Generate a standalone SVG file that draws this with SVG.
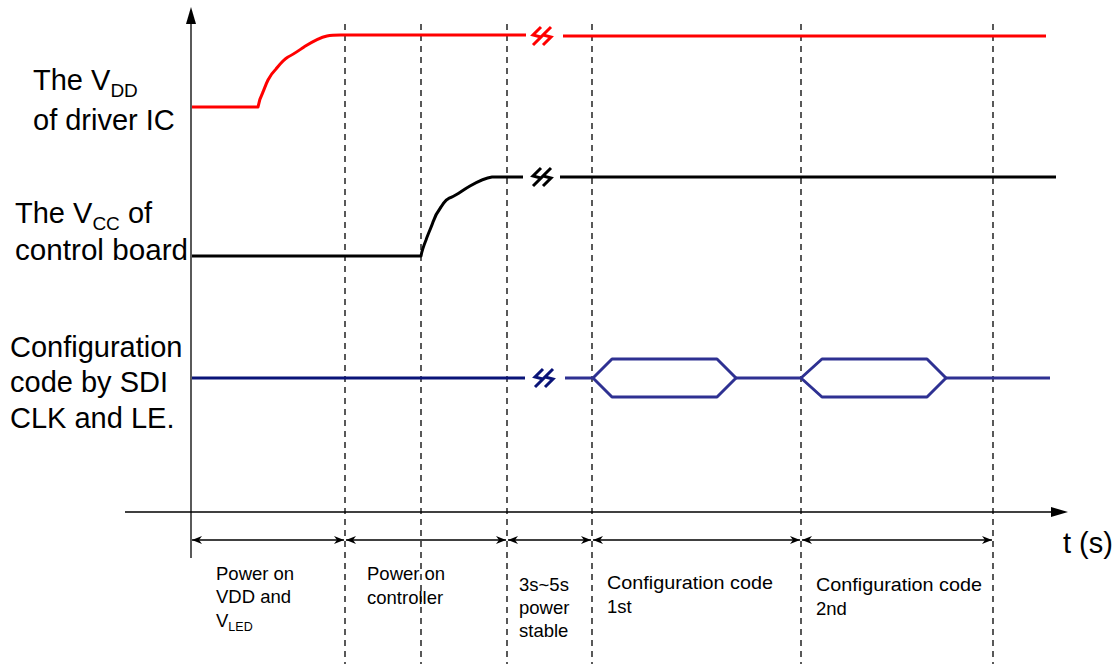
<svg xmlns="http://www.w3.org/2000/svg" width="1118" height="664" viewBox="0 0 1118 664">
  <style>
    .lbl { font-family: "Liberation Sans", Arial, sans-serif; font-size: 29px; fill: #000; }
    .sub { font-size: 19px; }
    .small { font-family: "Liberation Sans", Arial, sans-serif; font-size: 18.5px; fill: #000; }
    .ssub { font-size: 12.5px; }
    .dash { stroke: #000; stroke-width: 1.3; stroke-dasharray: 6 5; fill: none; }
    .axis { stroke: #000; stroke-width: 1.3; fill: none; }
    .dim { stroke: #000; stroke-width: 1.3; fill: none; marker-start: url(#dimL); marker-end: url(#dimR); }
    .sig { fill: none; stroke-width: 3; stroke-linejoin: round; stroke-linecap: butt; }
    .brk { fill: none; stroke-width: 3; stroke-linejoin: miter; }
  </style>
  <defs>
    <marker id="dimR" viewBox="0 0 10 10" refX="10" refY="5" markerWidth="10" markerHeight="10" markerUnits="userSpaceOnUse" orient="auto">
      <path d="M0,1 L10,5 L0,9 L3,5 Z" fill="#000"/>
    </marker>
    <marker id="dimL" viewBox="0 0 10 10" refX="0" refY="5" markerWidth="10" markerHeight="10" markerUnits="userSpaceOnUse" orient="auto">
      <path d="M10,1 L0,5 L10,9 L7,5 Z" fill="#000"/>
    </marker>
    <g id="brk">
      <path d="M2,-9 L-6,-1 L2,1 L-6,9"/>
      <path d="M12,-9 L4,-1 L12,1 L4,9"/>
    </g>
  </defs>

  <rect width="1118" height="664" fill="#fff"/>

  <!-- axes -->
  <g id="axes">
    <line class="axis" x1="191" y1="20" x2="191" y2="558"/>
    <path d="M191,7 L186,24 L196,24 Z" fill="#000"/>
    <line class="axis" x1="125" y1="512" x2="1055" y2="512"/>
    <path d="M1068,512 L1051,507 L1051,517 Z" fill="#000"/>
    <text class="lbl" x="1063" y="553">t (s)</text>
  </g>

  <!-- dashed phase boundaries -->
  <g id="boundaries">
    <line class="dash" x1="345" y1="24" x2="345" y2="664"/>
    <line class="dash" x1="421" y1="24" x2="421" y2="664"/>
    <line class="dash" x1="507" y1="24" x2="507" y2="664"/>
    <line class="dash" x1="592" y1="24" x2="592" y2="664"/>
    <line class="dash" x1="801" y1="24" x2="801" y2="664"/>
    <line class="dash" x1="993" y1="24" x2="993" y2="664"/>
  </g>

  <!-- signal labels -->
  <g id="label-vdd">
    <text class="lbl" x="33" y="90">The V<tspan class="sub" dy="7">DD</tspan></text>
    <text class="lbl" x="33" y="130">of driver IC</text>
  </g>
  <g id="label-vcc">
    <text class="lbl" x="15" y="223">The V<tspan class="sub" dy="7">CC</tspan><tspan dy="-7"> of</tspan></text>
    <text class="lbl" x="15" y="260" textLength="173" lengthAdjust="spacingAndGlyphs">control board</text>
  </g>
  <g id="label-cfg">
    <text class="lbl" x="10" y="357">Configuration</text>
    <text class="lbl" x="10" y="392">code by SDI</text>
    <text class="lbl" x="10" y="428">CLK and LE.</text>
  </g>

  <!-- signals -->
  <g id="signal-vdd" stroke="#ff0000">
    <path class="sig" d="M192,107 L258,107 C259,100 261,96 263,92 C265,87 266,84 268,80 C270,76 272,73 276,69 C280,64 283,60 288,57 C294,54 298,51 304,47 C312,42 318,38 327,36 C334,34.5 340,35 347,35 L526,35"/>
    <use href="#brk" x="539" y="36" stroke="#ff0000" class="brk"/>
    <path class="sig" d="M563,36 L1046,36"/>
  </g>

  <g id="signal-vcc" stroke="#000">
    <path class="sig" d="M192,256 L421,256 C422,250 424,245 426,240 C428,234 431,228 433,222 C435,216 438,211 441,207 C444,202 447,198 452,197 C458,194 463,190 470,186 C477,182 484,178 492,177 L523,177"/>
    <use href="#brk" x="539" y="177" stroke="#000" class="brk"/>
    <path class="sig" d="M560,177 L1056,177"/>
  </g>

  <g id="signal-cfg">
    <path class="sig" stroke="#0a1478" d="M192,378 L525,378"/>
    <use href="#brk" x="541" y="378" stroke="#0a1478" class="brk"/>
    <path class="sig" stroke="#2e3192" d="M565,378 L593,378 L612,359 L717,359 L736,378 L717,397 L612,397 L593,378"/>
    <path class="sig" stroke="#2e3192" d="M736,378 L801,378 L822,359 L927,359 L946,378 L927,397 L822,397 L801,378"/>
    <path class="sig" stroke="#2e3192" d="M946,378 L1050,378"/>
  </g>

  <!-- phase dimension arrows -->
  <g id="connectors">
    <line class="dim" x1="192" y1="540" x2="344" y2="540"/>
    <line class="dim" x1="346" y1="540" x2="506" y2="540"/>
    <line class="dim" x1="508" y1="540" x2="591" y2="540"/>
    <line class="dim" x1="593" y1="540" x2="800" y2="540"/>
    <line class="dim" x1="802" y1="540" x2="992" y2="540"/>
  </g>

  <!-- phase labels -->
  <g id="phase-1">
    <text class="small" x="216" y="580">Power on</text>
    <text class="small" x="216" y="603">VDD and</text>
    <text class="small" x="216" y="627">V<tspan class="ssub" dy="4">LED</tspan></text>
  </g>
  <g id="phase-2">
    <text class="small" x="367" y="580">Power on</text>
    <text class="small" x="367" y="604">controller</text>
  </g>
  <g id="phase-3">
    <text class="small" x="519" y="591">3s~5s</text>
    <text class="small" x="519" y="614">power</text>
    <text class="small" x="519" y="637">stable</text>
  </g>
  <g id="phase-4">
    <text class="small" x="607" y="589" textLength="166" lengthAdjust="spacingAndGlyphs">Configuration code</text>
    <text class="small" x="607" y="613">1st</text>
  </g>
  <g id="phase-5">
    <text class="small" x="816" y="591" textLength="166" lengthAdjust="spacingAndGlyphs">Configuration code</text>
    <text class="small" x="816" y="615">2nd</text>
  </g>
</svg>
